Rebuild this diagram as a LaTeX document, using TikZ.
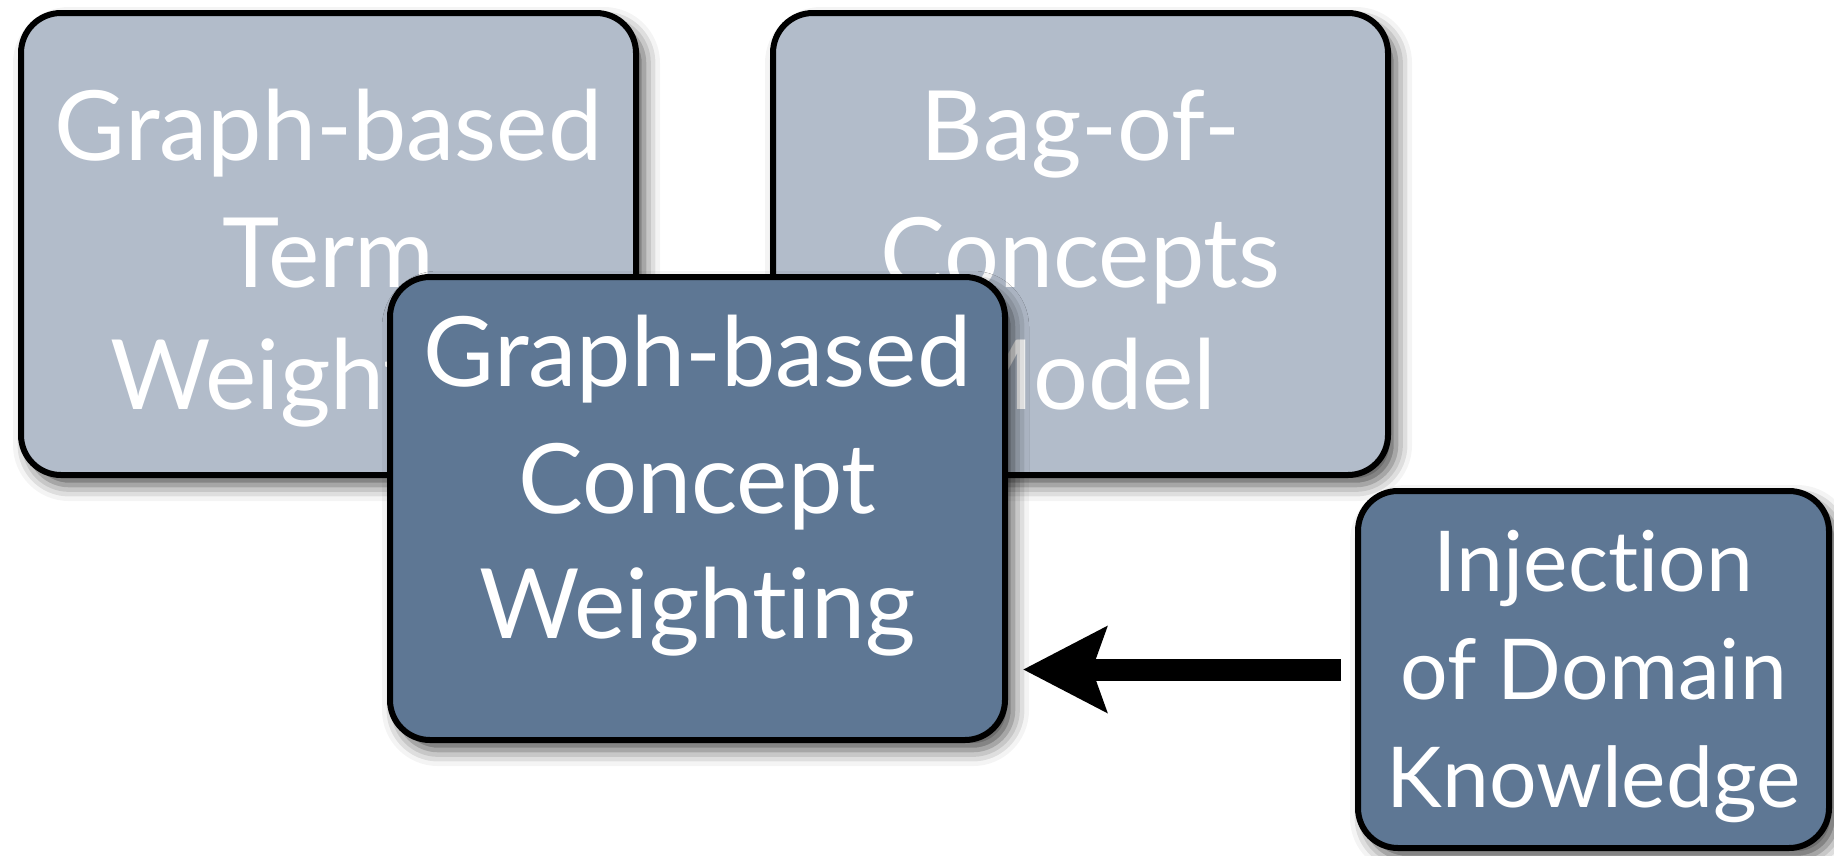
\documentclass[tikz,border=0pt]{standalone}
\usepackage{fontspec}
\setmainfont{Lato}[Ligatures={NoCommon}]
\usetikzlibrary{arrows.meta,shadows.blur}

\definecolor{paleslate}{RGB}{178,188,202}
\definecolor{deepslate}{RGB}{94,119,148}

\tikzset{
  card/.style={draw=black, line width=6pt, rounded corners=40pt,
    blur shadow={shadow xshift=8pt, shadow yshift=-10pt,
                 shadow blur radius=16pt, shadow opacity=70}},
  palecard/.style={card, fill=paleslate},
  deepcard/.style={card, fill=deepslate},
  bigtext/.style={font=\fontsize{97}{120}\selectfont},
  smalltext/.style={font=\fontsize{84}{104}\selectfont},
  linetext/.style={text=white, inner sep=0pt, anchor=base},
  feed/.style={line width=22pt, draw=black,
    -{Stealth[length=83pt, width=84pt, inset=14pt]},
    shorten <=14pt, shorten >=15pt}
}

\begin{document}
\begin{tikzpicture}[x=1pt, y=-1pt]
  \useasboundingbox (0,0) rectangle (1834,855);

  % upper left card
  \node[palecard, minimum width=615pt, minimum height=462pt] (termw) at (328.5,244) {};
  \node[linetext, bigtext] (termw-a) at (328.5,160) {Graph-based};
  \node[linetext, bigtext] (termw-b) at (328.5,287) {Term};
  \node[linetext, bigtext] (termw-c) at (328.5,409) {Weighting};

  % upper right card
  \node[palecard, minimum width=615pt, minimum height=462pt] (bagc) at (1080.5,244) {};
  \node[linetext, bigtext] (bagc-a) at (1080.5,160) {Bag-of-};
  \node[linetext, bigtext] (bagc-b) at (1080.5,287) {Concepts};
  \node[linetext, bigtext] (bagc-c) at (1080.5,409) {Model};

  % central card, drawn over both upper cards
  \node[deepcard, minimum width=615pt, minimum height=463pt] (concw) at (697.5,508.5) {};
  \node[linetext, bigtext] (concw-a) at (697.5,386) {Graph-based};
  \node[linetext, bigtext] (concw-b) at (697.5,513) {Concept};
  \node[linetext, bigtext] (concw-c) at (697.5,638) {Weighting};

  % lower right card
  \node[deepcard, minimum width=471pt, minimum height=357pt] (inj) at (1593.5,669.5) {};
  \node[linetext, smalltext] (inj-a) at (1593.5,591) {Injection};
  \node[linetext, smalltext] (inj-b) at (1593.5,699) {of Domain};
  \node[linetext, smalltext] (inj-c) at (1593.5,807) {Knowledge};

  % knowledge feeds into the central card
  \draw[feed] (inj.west) -- (inj.west -| concw.east);
\end{tikzpicture}
\end{document}
